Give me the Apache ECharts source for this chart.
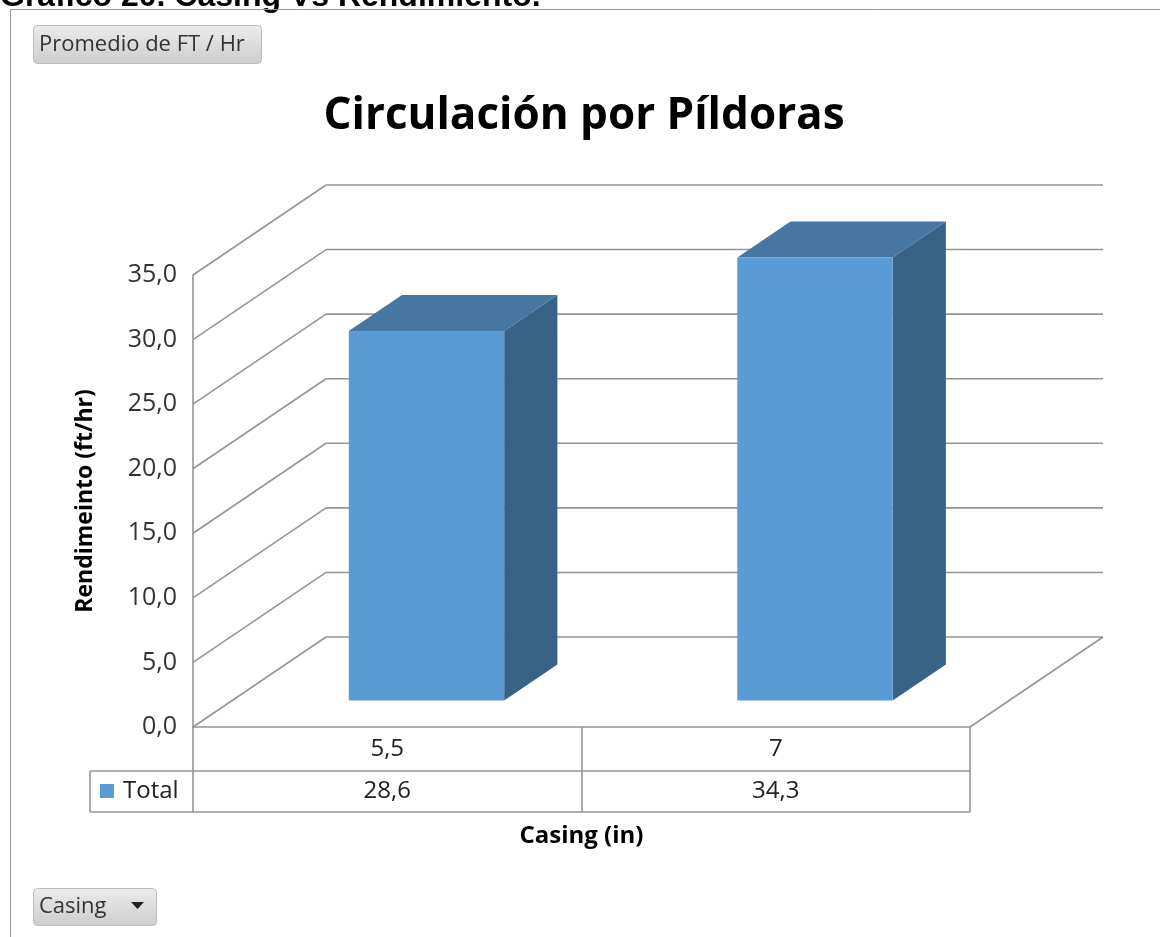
<!DOCTYPE html>
<html>
<head>
<meta charset="utf-8">
<script src="https://cdn.jsdelivr.net/npm/echarts@6/dist/echarts.min.js"></script>
<style>
  html, body { margin: 0; padding: 0; background: #fff; }
  #chart { width: 1160px; height: 937px; }
</style>
</head>
<body>
<div id="chart"></div>
<script>
// Casing sizes (in) and average rate of penetration (ft/hr)
const categories = ['5,5', '7'];
const totals = [28.6, 34.3];
const seriesName = 'Total';
const yMin = 0;
const yMax = 35;
const yStep = 5;

// oblique depth of the 3D box (pixels) and bar placement inside it
const DX = 133;
const DY = 90;
const BAR_D0 = 0.295;
const BAR_D1 = 0.695;
const BAR_W = 0.4;

const GRID_COLOR = '#959595';
const BAR_FRONT = '#5b9bd5';
const BAR_TOP = '#4676a1';
const BAR_SIDE = '#386387';
const FONT = '"Open Sans", "Noto Sans", sans-serif';
const TEXT_SIZE = 24;

const fmt = v => v.toFixed(1).replace('.', ',');

const chart = echarts.init(document.getElementById('chart'), null, { renderer: 'canvas' });

function line(x1, y1, x2, y2, w) {
  return {
    type: 'line',
    shape: { x1, y1, x2, y2 },
    style: { stroke: GRID_COLOR, lineWidth: w || 1.6 },
    silent: true
  };
}

// walls, floor and data-table frame
function renderFrame(params, api) {
  const cs = params.coordSys;
  const children = [];
  for (let v = yMin; v <= yMax; v += yStep) {
    const y = api.coord([0, v])[1];
    children.push(line(cs.x, y, cs.x + DX, y - DY));
    children.push(line(cs.x + DX, y - DY, cs.x + cs.width + DX, y - DY));
  }
  const y0 = api.coord([0, yMin])[1];
  children.push(line(cs.x + cs.width, y0, cs.x + cs.width + DX, y0 - DY));
  // data table rows
  const tl = cs.x - 103;
  children.push(line(tl, y0 + 44, cs.x + cs.width, y0 + 44));
  children.push(line(tl, y0 + 85, cs.x + cs.width, y0 + 85));
  children.push(line(tl, y0 + 44, tl, y0 + 85));
  children.push({
    type: 'rect',
    shape: { x: tl + 10, y: y0 + 57, width: 14, height: 14 },
    style: { fill: BAR_FRONT }
  });
  children.push({
    type: 'text',
    style: {
      text: seriesName, x: tl + 33, y: y0 + 64,
      fill: '#222', font: TEXT_SIZE + 'px ' + FONT, verticalAlign: 'middle', align: 'left'
    }
  });
  return { type: 'group', children };
}

// 3D bars plus the values row of the data table
function renderBar(params, api) {
  const idx = api.value(0);
  const val = api.value(1);
  const base = api.coord([idx, 0]);
  const top = api.coord([idx, val]);
  const bw = api.size([1, 0])[0] * BAR_W;
  const ox = BAR_D0 * DX, oy = BAR_D0 * DY;
  const dx = (BAR_D1 - BAR_D0) * DX, dy = (BAR_D1 - BAR_D0) * DY;
  const fx = base[0] - bw / 2 + ox;
  const fb = base[1] - oy;
  const ft = top[1] - oy;
  return {
    type: 'group',
    children: [
      {
        type: 'polygon',
        shape: { points: [[fx + bw, ft], [fx + bw + dx, ft - dy], [fx + bw + dx, fb - dy], [fx + bw, fb]] },
        style: { fill: BAR_SIDE }
      },
      {
        type: 'polygon',
        shape: { points: [[fx, ft], [fx + bw, ft], [fx + bw + dx, ft - dy], [fx + dx, ft - dy]] },
        style: { fill: BAR_TOP }
      },
      {
        type: 'rect',
        shape: { x: fx, y: ft, width: bw, height: fb - ft },
        style: { fill: BAR_FRONT }
      },
      {
        type: 'text',
        style: {
          text: fmt(val), x: base[0], y: base[1] + 64,
          fill: '#222', font: TEXT_SIZE + 'px ' + FONT, align: 'center', verticalAlign: 'middle'
        }
      }
    ]
  };
}

const buttonFill = new echarts.graphic.LinearGradient(0, 0, 0, 1, [
  { offset: 0, color: '#ececec' },
  { offset: 1, color: '#cdcdcd' }
]);

chart.setOption({
  animation: false,
  backgroundColor: '#ffffff',
  title: {
    text: 'Circulación por Píldoras',
    left: 579,
    textAlign: 'center',
    top: 89,
    textStyle: { fontFamily: FONT, fontWeight: 'bold', fontSize: 44, color: '#000' }
  },
  grid: { left: 193, top: 275, width: 777, height: 452 },
  xAxis: {
    type: 'category',
    data: categories,
    boundaryGap: true,
    name: 'Casing (in)',
    nameLocation: 'middle',
    nameGap: 97,
    nameTextStyle: { fontFamily: FONT, fontWeight: 'bold', fontSize: 24, color: '#000' },
    axisLine: { lineStyle: { color: GRID_COLOR, width: 1.6 } },
    axisTick: { show: true, length: 85, lineStyle: { color: GRID_COLOR, width: 1.6 } },
    axisLabel: { margin: 10, fontFamily: FONT, fontSize: TEXT_SIZE, color: '#222' },
    splitLine: { show: false }
  },
  yAxis: {
    type: 'value',
    min: yMin,
    max: yMax,
    interval: yStep,
    name: 'Rendimeinto (ft/hr)',
    nameLocation: 'middle',
    nameRotate: 90,
    nameGap: 96,
    nameTextStyle: { fontFamily: FONT, fontWeight: 'bold', fontSize: 23, color: '#000' },
    axisLine: { show: true, lineStyle: { color: GRID_COLOR, width: 1.6 } },
    axisTick: { show: false },
    splitLine: { show: false },
    axisLabel: {
      margin: 16,
      fontFamily: FONT,
      fontSize: 25,
      color: '#333',
      formatter: v => fmt(v)
    }
  },
  series: [
    { type: 'custom', name: 'frame', data: [[0, 0]], renderItem: renderFrame, silent: true, z: 1 },
    { type: 'custom', name: seriesName, data: totals.map((v, i) => [i, v]), renderItem: renderBar, z: 2 }
  ],
  graphic: [
    {
      type: 'text', x: 0, y: 13,
      style: { text: 'Gráfico 20. Casing Vs Rendimiento.', font: 'bold 32px "Liberation Sans", Arial, sans-serif', fill: '#000', verticalAlign: 'bottom' }
    },
    { type: 'line', shape: { x1: 10.5, y1: 9, x2: 10.5, y2: 937 }, style: { stroke: '#999', lineWidth: 1 } },
    { type: 'line', shape: { x1: 10, y1: 9.5, x2: 1160, y2: 9.5 }, style: { stroke: '#999', lineWidth: 1 } },
    {
      type: 'rect', shape: { x: 33.5, y: 25.5, width: 228, height: 38, r: 4 },
      style: { fill: buttonFill, stroke: '#bdbdbd', lineWidth: 1 }
    },
    {
      type: 'text', x: 39, y: 45,
      style: { text: 'Promedio de FT / Hr', font: '22px ' + FONT, fill: '#333', verticalAlign: 'middle' }
    },
    {
      type: 'rect', shape: { x: 33.5, y: 888.5, width: 123, height: 37, r: 4 },
      style: { fill: buttonFill, stroke: '#bdbdbd', lineWidth: 1 }
    },
    {
      type: 'text', x: 39, y: 907,
      style: { text: 'Casing', font: '22px ' + FONT, fill: '#333', verticalAlign: 'middle' }
    },
    {
      type: 'polygon', shape: { points: [[131, 902], [144, 902], [137.5, 909]] },
      style: { fill: '#222' }
    }
  ]
});
</script>
</body>
</html>
